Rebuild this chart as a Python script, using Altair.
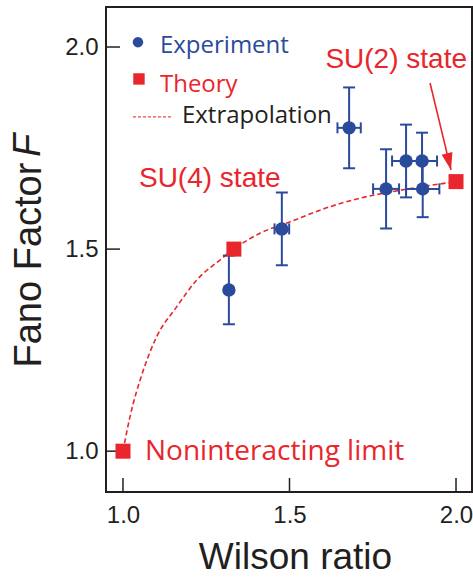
import altair as alt
import pandas as pd

# ---------------- data ----------------
exp_x = [1.318, 1.477, 1.679, 1.790, 1.850, 1.898, 1.900]
exp_y = [1.399, 1.550, 1.800, 1.649, 1.718, 1.718, 1.649]
exp_yerr = [0.085, 0.090, 0.100, 0.098, 0.090, 0.070, 0.070]
exp_xerr = [0.000, 0.022, 0.035, 0.039, 0.042, 0.045, 0.050]

theory_x = [1.0, 1.333, 2.0]
theory_y = [1.0, 1.5, 1.667]

curve_x = [1.0, 1.021, 1.061, 1.101, 1.161, 1.221, 1.291, 1.333, 1.411, 1.5, 1.622, 1.712, 1.85, 2.0]
curve_y = [1.0, 1.085, 1.200, 1.283, 1.357, 1.423, 1.473, 1.5, 1.539, 1.567, 1.605, 1.626, 1.648, 1.667]

x_ticks = [1.0, 1.5, 2.0]
y_ticks = [1.0, 1.5, 2.0]
x_domain = [0.949, 2.048]
y_domain = [0.899, 2.099]

annot_text = ["SU(4) state", "SU(2) state", "Noninteracting limit"]
annot_x = [1.048, 2.033, 1.066]
annot_y = [1.653, 1.948, 0.978]

arrow_x = [1.922, 1.985]
arrow_y = [1.911, 1.696]

legend_labels = ["Experiment", "Theory", "Extrapolation"]

BLUE = "#2a4a9c"
RED = "#e8262c"
DARK = "#231f20"

xs = alt.Scale(domain=x_domain, nice=False, zero=False)
ys = alt.Scale(domain=y_domain, nice=False, zero=False)


def X(field="x"):
    return alt.X(f"{field}:Q", scale=xs)


def Y(field="y"):
    return alt.Y(f"{field}:Q", scale=ys)


exp_df = pd.DataFrame({"x": exp_x, "y": exp_y, "ye": exp_yerr, "xe": exp_xerr})
exp_df["ylo"] = exp_df["y"] - exp_df["ye"]
exp_df["yhi"] = exp_df["y"] + exp_df["ye"]
exp_df["xlo"] = exp_df["x"] - exp_df["xe"]
exp_df["xhi"] = exp_df["x"] + exp_df["xe"]
xerr_df = exp_df[exp_df["xe"] > 0]

theory_df = pd.DataFrame({"x": theory_x, "y": theory_y})
curve_df = pd.DataFrame({"x": curve_x, "y": curve_y})

# axes carrier layer (invisible)
axis_df = pd.DataFrame({"x": x_domain, "y": y_domain})
axes = alt.Chart(axis_df).mark_point(opacity=0).encode(
    x=alt.X("x:Q", scale=xs, axis=alt.Axis(
        values=x_ticks, format=".1f", title="Wilson ratio", domain=False,
        ticks=False, tickSize=0, grid=False, labelPadding=11,
        labelFont="Liberation Sans", labelFontSize=24, labelColor=DARK,
        titleFont="Liberation Sans", titleFontSize=37, titleFontWeight="normal",
        titleColor=DARK, titleBaseline="alphabetic", titleY=76, titleX=189,
        titleAlign="center")),
    y=alt.Y("y:Q", scale=ys, axis=alt.Axis(
        values=y_ticks, format=".1f", title="Fano Factor", domain=False,
        ticks=False, tickSize=0, grid=False, labelPadding=8,
        labelFont="Liberation Sans", labelFontSize=24, labelColor=DARK,
        titleFont="Liberation Sans", titleFontSize=38, titleFontWeight="normal",
        titleColor=DARK, titleAngle=270, titleBaseline="alphabetic",
        titleAlign="left", titleX=-66, titleY=360)),
)

# inward ticks
ytick_df = pd.DataFrame({"x": [x_domain[0]] * len(y_ticks), "y": y_ticks})
xtick_df = pd.DataFrame({"x": x_ticks, "y": [y_domain[0]] * len(x_ticks)})
yticks = alt.Chart(ytick_df).mark_tick(orient="horizontal", size=14, thickness=1.5,
                                       xOffset=7, color=DARK, opacity=1).encode(x=X(), y=Y())
xticks = alt.Chart(xtick_df).mark_tick(orient="vertical", size=14, thickness=1.5,
                                       yOffset=-7, color=DARK, opacity=1).encode(x=X(), y=Y())

# extrapolation curve
curve = alt.Chart(curve_df).mark_line(color=RED, strokeWidth=1.6, strokeDash=[5, 3],
                                      interpolate="monotone").encode(x=X(), y=Y())

# error bars
ybars = alt.Chart(exp_df).mark_rule(color=BLUE, strokeWidth=2).encode(
    x=X(), y=Y("ylo"), y2="yhi:Q")
ycap_lo = alt.Chart(exp_df).mark_tick(orient="horizontal", size=12, thickness=2,
                                      color=BLUE, opacity=1).encode(x=X(), y=Y("ylo"))
ycap_hi = alt.Chart(exp_df).mark_tick(orient="horizontal", size=12, thickness=2,
                                      color=BLUE, opacity=1).encode(x=X(), y=Y("yhi"))
xbars = alt.Chart(xerr_df).mark_rule(color=BLUE, strokeWidth=2).encode(
    x=X("xlo"), x2="xhi:Q", y=Y())
xcap_lo = alt.Chart(xerr_df).mark_tick(orient="vertical", size=11, thickness=2,
                                       color=BLUE, opacity=1).encode(x=X("xlo"), y=Y())
xcap_hi = alt.Chart(xerr_df).mark_tick(orient="vertical", size=11, thickness=2,
                                       color=BLUE, opacity=1).encode(x=X("xhi"), y=Y())

exp_pts = alt.Chart(exp_df).mark_circle(size=180, color=BLUE, opacity=1).encode(x=X(), y=Y())
theory_pts = alt.Chart(theory_df).mark_square(size=225, color=RED, opacity=1).encode(x=X(), y=Y())

# annotations
ann_df = pd.DataFrame({"x": annot_x, "y": annot_y, "t": annot_text})
ann1 = alt.Chart(ann_df.iloc[[0]]).mark_text(font="Liberation Sans", fontSize=28, color=RED,
                                             align="left", baseline="alphabetic").encode(
    x=X(), y=Y(), text="t:N")
ann2 = alt.Chart(ann_df.iloc[[1]]).mark_text(font="Liberation Sans", fontSize=28, color=RED,
                                             align="right", baseline="alphabetic").encode(
    x=X(), y=Y(), text="t:N")
ann3 = alt.Chart(ann_df.iloc[[2]]).mark_text(font="Open Sans", fontSize=28, color=RED,
                                             align="left", baseline="alphabetic").encode(
    x=X(), y=Y(), text="t:N")

# arrow
arrow_df = pd.DataFrame({"x": arrow_x, "y": arrow_y})
arrow_line = alt.Chart(arrow_df).mark_line(color=RED, strokeWidth=1.6).encode(x=X(), y=Y())
arrow_head = alt.Chart(arrow_df.iloc[[1]]).mark_point(
    shape="M0,0L0.65,-2L-0.65,-2Z", size=289, angle=346.4, filled=True,
    color=RED, opacity=1, strokeWidth=0).encode(x=X(), y=Y())

# italic F of the y title
f_df = pd.DataFrame({"y": [1.728], "t": ["F"]})
ytitle_f = alt.Chart(f_df).mark_text(font="Liberation Sans", fontSize=38, fontStyle="italic",
                                     color=DARK, angle=270, align="left",
                                     baseline="alphabetic").encode(
    x=alt.value(-66), y=Y(), text="t:N")

# legend
leg_circle_df = pd.DataFrame({"x": [1.045], "y": [2.012]})
leg_square_df = pd.DataFrame({"x": [1.048], "y": [1.921]})
leg_line_df = pd.DataFrame({"x": [1.030, 1.147], "y": [1.827, 1.827]})
leg_text_df = pd.DataFrame({"x": [1.111, 1.111, 1.177], "y": [1.985, 1.889, 1.812],
                            "t": legend_labels, "c": [BLUE, RED, DARK]})
leg_c = alt.Chart(leg_circle_df).mark_circle(size=110, color=BLUE, opacity=1).encode(x=X(), y=Y())
leg_s = alt.Chart(leg_square_df).mark_square(size=130, color=RED, opacity=1).encode(x=X(), y=Y())
leg_l = alt.Chart(leg_line_df).mark_line(color=RED, strokeWidth=1.2, strokeDash=[3, 2],
                                         opacity=0.85).encode(x=X(), y=Y())
leg_t = alt.Chart(leg_text_df).mark_text(font="Open Sans", fontSize=24, align="left",
                                         baseline="alphabetic").encode(
    x=X(), y=Y(), text="t:N", color=alt.Color("c:N", scale=None))

chart = alt.layer(
    axes, yticks, xticks, curve,
    ybars, ycap_lo, ycap_hi, xbars, xcap_lo, xcap_hi,
    exp_pts, theory_pts, arrow_line, arrow_head,
    ann1, ann2, ann3, ytitle_f, leg_c, leg_s, leg_l, leg_t,
).properties(
    width=366, height=485,
    autosize=alt.AutoSizeParams(type="none"),
    padding={"left": 106, "top": 7, "right": 1, "bottom": 86},
).configure_view(stroke=DARK, strokeWidth=2)

chart.save("out.html", embed_options={"renderer": "svg", "actions": False})
